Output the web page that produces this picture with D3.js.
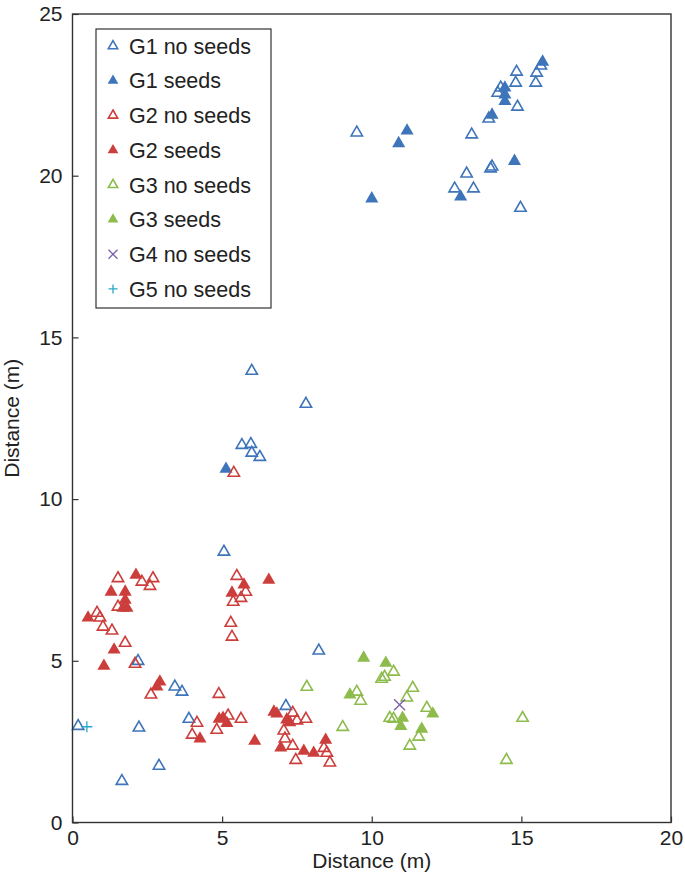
<!DOCTYPE html>
<html><head><meta charset="utf-8">
<script src="https://cdn.jsdelivr.net/npm/d3@7/dist/d3.min.js"></script>
<style>body{margin:0;background:#fff}svg{display:block}text{font-family:"Liberation Sans",Arial,sans-serif}</style>
</head><body><svg id="c" width="685" height="876"></svg>
<script>
const xTicks=[0,5,10,15,20];
const yTicks=[0,5,10,15,20,25];
const g1NoSeeds=[[14.84,23.21],[14.81,22.87],[15.51,23.18],[15.48,22.87],[15.65,23.40],[14.21,22.56],[14.31,22.72],[14.87,22.13],[13.91,21.76],[13.34,21.27],[9.50,21.33],[13.17,20.06],[13.97,20.22],[14.02,20.28],[12.77,19.60],[13.40,19.60],[14.97,19.00],[5.99,13.96],[7.80,12.94],[5.66,11.67],[5.96,11.70],[5.99,11.43],[6.26,11.30],[5.06,8.37],[8.23,5.31],[2.19,4.99],[3.42,4.20],[3.66,4.04],[3.89,3.20],[0.19,2.98],[2.22,2.93],[2.89,1.75],[1.65,1.28],[7.13,3.60]];
const g1Seeds=[[15.71,23.52],[14.45,22.72],[14.45,22.50],[14.45,22.30],[14.02,21.88],[11.18,21.39],[10.90,21.00],[14.77,20.45],[10.00,19.29],[12.97,19.35],[5.13,10.93]];
const g2NoSeeds=[[5.39,10.81],[1.52,7.55],[2.69,7.55],[2.32,7.44],[2.59,7.31],[1.52,6.67],[0.82,6.48],[0.92,6.33],[1.02,6.05],[1.32,5.93],[1.76,5.55],[2.09,4.90],[2.62,3.95],[4.89,3.97],[5.20,3.30],[5.63,3.20],[4.82,2.86],[4.16,3.08],[4.00,2.71],[5.49,7.62],[5.79,7.13],[5.37,6.82],[5.63,6.94],[5.29,6.17],[5.33,5.74],[7.36,3.39],[7.50,3.15],[7.80,3.20],[7.06,2.84],[7.10,2.59],[7.36,2.37],[7.46,1.93],[8.40,2.30],[8.50,2.15],[8.60,1.85]];
const g2Seeds=[[2.12,7.65],[1.29,7.13],[1.76,7.13],[1.76,6.88],[1.69,6.63],[1.82,6.63],[0.52,6.33],[1.39,5.34],[1.05,4.84],[2.92,4.35],[2.82,4.20],[4.90,3.20],[5.03,3.23],[5.16,3.07],[4.26,2.59],[6.09,2.52],[6.73,3.42],[6.83,3.36],[5.73,7.35],[5.33,7.10],[6.56,7.50],[7.16,3.18],[7.26,3.09],[6.96,2.31],[7.73,2.21],[8.06,2.15],[8.46,2.55]];
const g3NoSeeds=[[7.83,4.19],[10.73,4.66],[10.33,4.44],[10.43,4.50],[11.37,4.16],[9.50,4.04],[9.63,3.76],[11.17,3.86],[11.84,3.54],[10.60,3.23],[10.73,3.20],[11.57,2.65],[11.27,2.37],[9.03,2.95],[15.04,3.23],[14.50,1.93]];
const g3Seeds=[[9.73,5.09],[10.47,4.93],[9.27,3.95],[12.04,3.36],[11.03,3.23],[10.97,2.98],[11.67,2.89]];
const g4NoSeeds=[[10.93,3.64]];
const g5NoSeeds=[[0.48,2.96]];
const seriesNames=["G1 no seeds","G1 seeds","G2 no seeds","G2 seeds","G3 no seeds","G3 seeds","G4 no seeds","G5 no seeds"];

const colors={blue:"#3e74ba",red:"#cc3e3b",green:"#8dbb4c",purple:"#7b5ea9",cyan:"#2aa8c8"};
const series=[
 {name:seriesNames[0],data:g1NoSeeds,color:colors.blue,type:"open"},
 {name:seriesNames[1],data:g1Seeds,color:colors.blue,type:"fill"},
 {name:seriesNames[2],data:g2NoSeeds,color:colors.red,type:"open"},
 {name:seriesNames[3],data:g2Seeds,color:colors.red,type:"fill"},
 {name:seriesNames[4],data:g3NoSeeds,color:colors.green,type:"open"},
 {name:seriesNames[5],data:g3Seeds,color:colors.green,type:"fill"},
 {name:seriesNames[6],data:g4NoSeeds,color:colors.purple,type:"x"},
 {name:seriesNames[7],data:g5NoSeeds,color:colors.cyan,type:"plus"}
];

const svg=d3.select("#c");
const L=72.5,R=671,T=14,B=822.5;
const x=d3.scaleLinear().domain([0,20]).range([L,R]);
const y=d3.scaleLinear().domain([0,25]).range([B,T]);
const axCol="#333";

function drawMark(sel,s,scale){
  if(s.type==="fill"){
    sel.append("path").attr("d",d3.symbol(d3.symbolTriangle,74*scale*scale)()).attr("fill",s.color);
  } else if(s.type==="open"){
    sel.append("path").attr("d",d3.symbol(d3.symbolTriangle,56*scale*scale)()).attr("fill","none").attr("stroke",s.color).attr("stroke-width",1.6);
  } else if(s.type==="x"){
    const r=(5.5*scale).toFixed(2);
    sel.append("path").attr("d",`M-${r},-${r}L${r},${r}M-${r},${r}L${r},-${r}`).attr("fill","none").attr("stroke",s.color).attr("stroke-width",1.3);
  } else {
    const r=(5.5*scale).toFixed(2);
    sel.append("path").attr("d",`M-${r},0H${r}M0,-${r}V${r}`).attr("fill","none").attr("stroke",s.color).attr("stroke-width",1.3);
  }
}

series.forEach(s=>{
  const g=svg.append("g");
  s.data.forEach(d=>{
    const m=g.append("g").attr("transform",`translate(${x(d[0])},${y(d[1])})`);
    drawMark(m,s,1);
  });
});

svg.append("rect").attr("x",L).attr("y",T).attr("width",R-L).attr("height",B-T).attr("fill","none").attr("stroke",axCol).attr("stroke-width",1.4);

const xa=svg.append("g").attr("transform",`translate(0,${B})`).call(d3.axisBottom(x).tickValues(xTicks).tickFormat(d3.format("d")).tickSizeInner(-6).tickSizeOuter(0).tickPadding(8));
const ya=svg.append("g").attr("transform",`translate(${L},0)`).call(d3.axisLeft(y).tickValues(yTicks).tickFormat(d3.format("d")).tickSizeInner(-6).tickSizeOuter(0).tickPadding(10));
[xa,ya].forEach(a=>{a.select(".domain").remove();a.selectAll("line").attr("stroke",axCol).attr("stroke-width",1.2);a.selectAll("text").attr("font-size",21).attr("fill","#222").style("font-family",'"Liberation Sans",Arial,sans-serif');});

svg.append("text").attr("x",(L+R)/2).attr("y",868).attr("text-anchor","middle").attr("font-size",21).attr("fill","#222").text("Distance (m)");
svg.append("text").attr("transform",`translate(19,${(T+B)/2}) rotate(-90)`).attr("text-anchor","middle").attr("font-size",21).attr("fill","#222").text("Distance (m)");

const lg=svg.append("g");
lg.append("rect").attr("x",96).attr("y",29).attr("width",175).attr("height",279).attr("fill","#fff").attr("stroke",axCol).attr("stroke-width",1.2);
series.forEach((s,i)=>{
  const cy=46+i*34.7;
  const m=lg.append("g").attr("transform",`translate(113,${cy})`);
  drawMark(m,s,0.82);
  lg.append("text").attr("x",129).attr("y",cy).attr("dy","0.36em").attr("font-size",21.5).attr("fill","#222").text(s.name);
});
</script></body></html>
